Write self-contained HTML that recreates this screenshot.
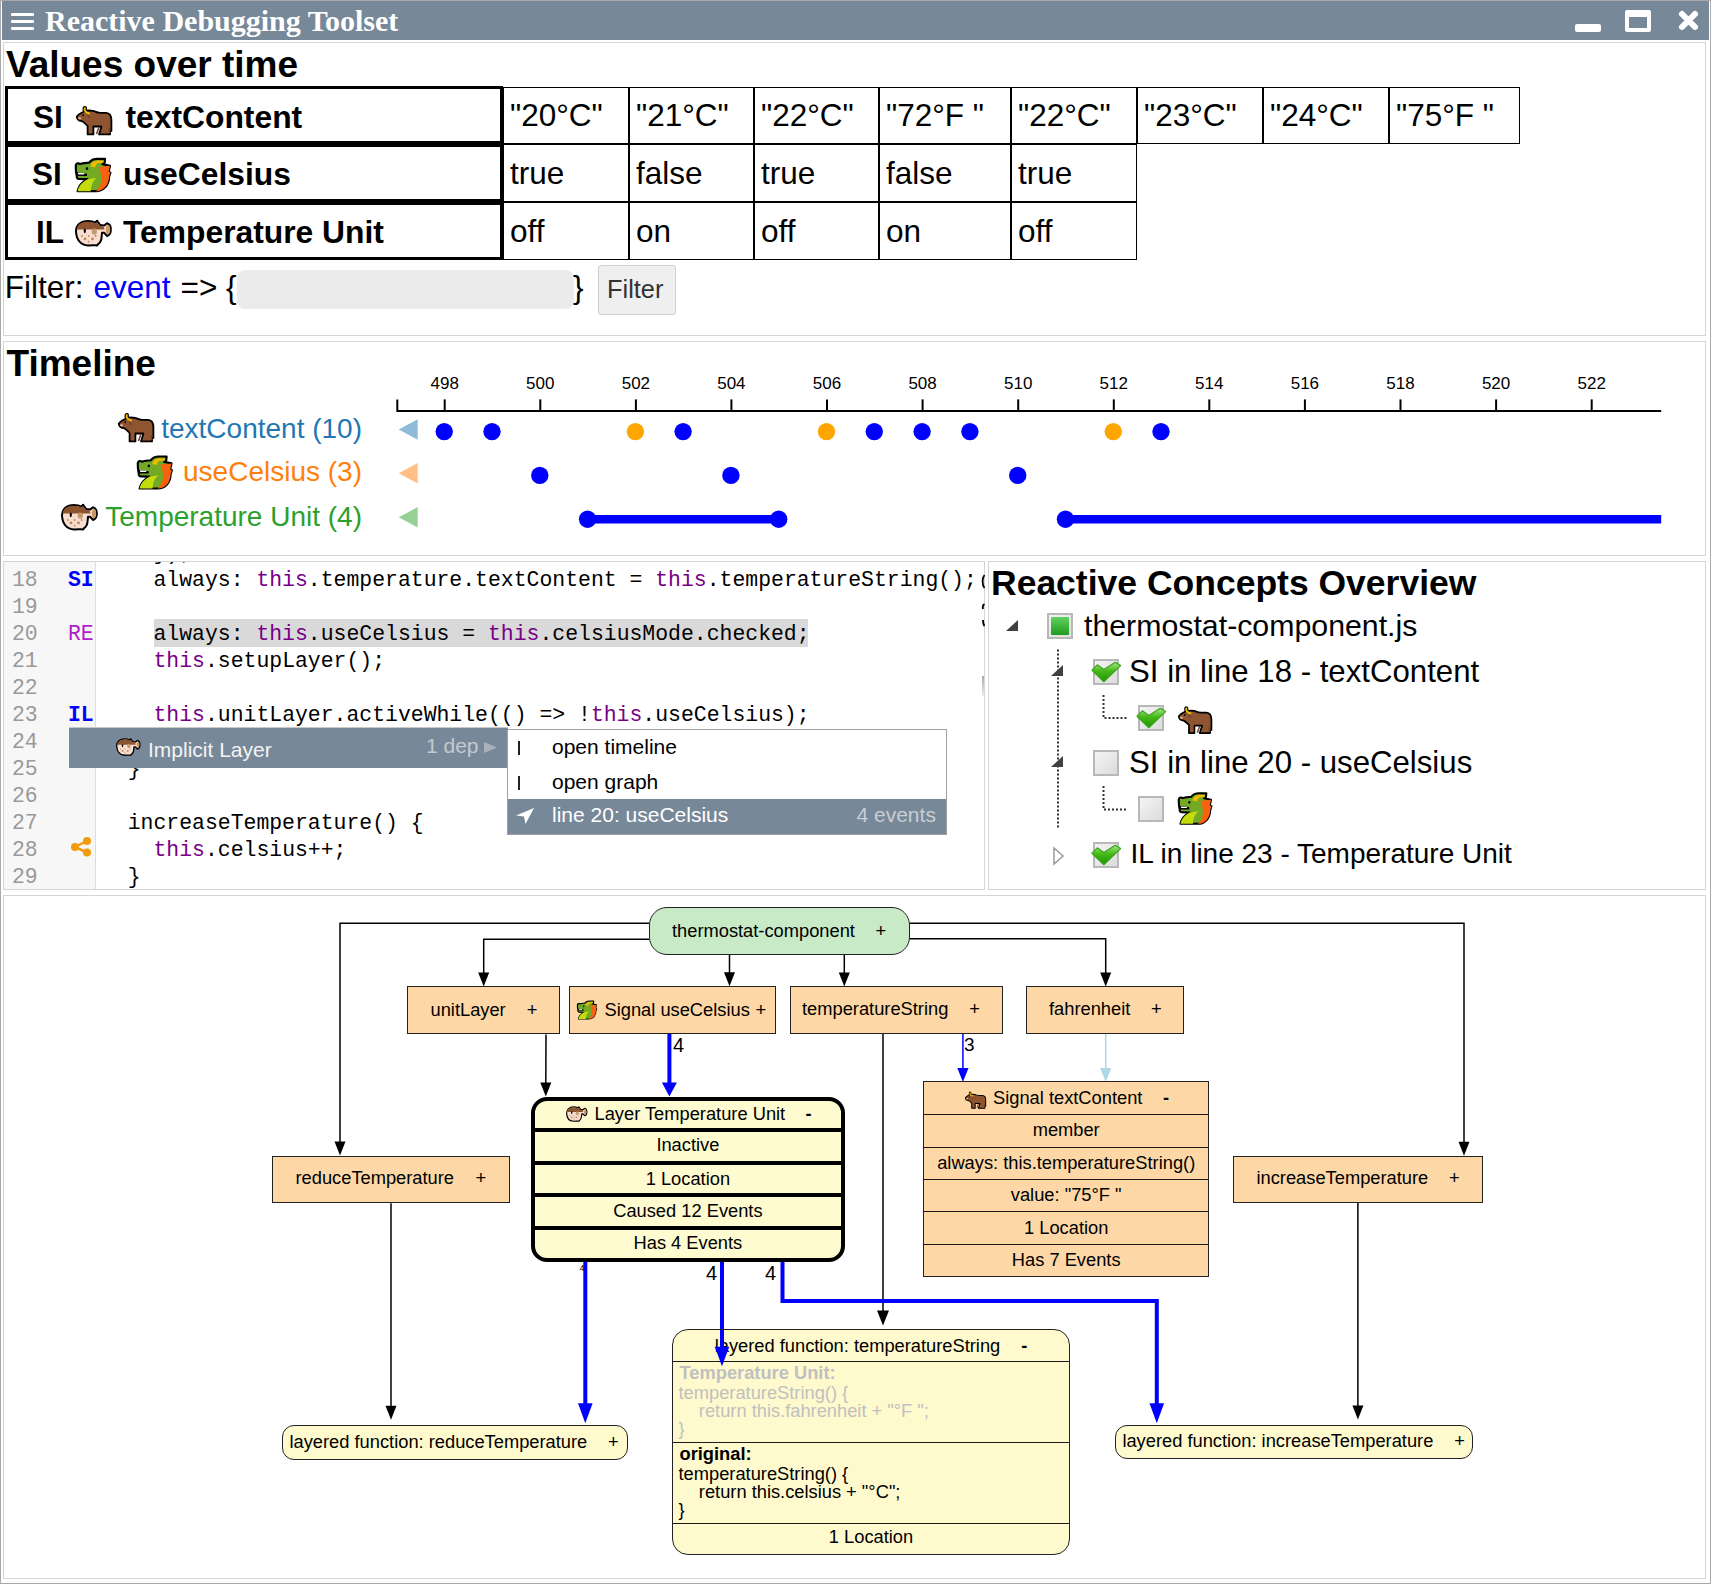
<!DOCTYPE html><html><head><meta charset="utf-8"><title>Reactive Debugging Toolset</title><style>html,body{margin:0;padding:0;background:#fff;overflow:hidden}body{width:1711px;height:1584px;position:relative}</style></head><body>
<div style="position:absolute;left:0px;top:0px;width:1711px;height:1584px;box-sizing:border-box;border:1px solid #a9a9a9;border-right:1px solid #a9a9a9"></div>
<div style="position:absolute;left:2px;top:1px;width:1707px;height:38.5px;box-sizing:border-box;background:#778899"></div>
<div style="position:absolute;left:11px;top:13px;width:23px;height:3px;box-sizing:border-box;background:#fff;border-radius:1px"></div>
<div style="position:absolute;left:11px;top:20px;width:23px;height:3px;box-sizing:border-box;background:#fff;border-radius:1px"></div>
<div style="position:absolute;left:11px;top:27px;width:23px;height:3px;box-sizing:border-box;background:#fff;border-radius:1px"></div>
<div style="position:absolute;left:45px;top:6px;font-family:'Liberation Serif', serif;font-size:30px;line-height:30px;color:#fff;font-weight:bold;white-space:pre;">Reactive Debugging Toolset</div>
<div style="position:absolute;left:1575px;top:24px;width:26px;height:8px;box-sizing:border-box;background:#fff;border-radius:2px"></div>
<div style="position:absolute;left:1625px;top:10px;width:26px;height:22px;box-sizing:border-box;border:4px solid #fff;border-top-width:7px;border-radius:2px"></div>
<svg style="position:absolute;left:1678px;top:10px;overflow:visible" width="21" height="21" viewBox="0 0 21 21"><path d="M4 4 L17 17 M17 4 L4 17" stroke="#fff" stroke-width="6" stroke-linecap="round"/></svg>
<div style="position:absolute;left:3px;top:42px;width:1703px;height:294px;box-sizing:border-box;border:1px solid #d5d5d5"></div>
<div style="position:absolute;left:3px;top:341px;width:1703px;height:215px;box-sizing:border-box;border:1px solid #d5d5d5"></div>
<div style="position:absolute;left:3px;top:561px;width:982px;height:329px;box-sizing:border-box;border:1px solid #d5d5d5"></div>
<div style="position:absolute;left:988px;top:561px;width:718px;height:329px;box-sizing:border-box;border:1px solid #d5d5d5"></div>
<div style="position:absolute;left:3px;top:895px;width:1703px;height:684px;box-sizing:border-box;border:1px solid #d5d5d5"></div>
<div style="position:absolute;left:6px;top:46px;font-family:'Liberation Sans', sans-serif;font-size:37px;line-height:37px;color:#000;font-weight:bold;white-space:pre;">Values over time</div>
<div style="position:absolute;left:5px;top:86px;width:498px;height:58px;box-sizing:border-box;border:3px solid #000"></div>
<div style="position:absolute;left:5px;top:144px;width:498px;height:58px;box-sizing:border-box;border:3px solid #000"></div>
<div style="position:absolute;left:5px;top:202px;width:498px;height:58px;box-sizing:border-box;border:3px solid #000"></div>
<div style="position:absolute;left:503px;top:87px;width:126px;height:57px;box-sizing:border-box;border:1px solid #000"></div>
<div style="position:absolute;left:510px;top:100px;font-family:'Liberation Sans', sans-serif;font-size:31.5px;line-height:31.5px;color:#000;font-weight:normal;white-space:pre;">"20°C"</div>
<div style="position:absolute;left:629px;top:87px;width:125px;height:57px;box-sizing:border-box;border:1px solid #000"></div>
<div style="position:absolute;left:636px;top:100px;font-family:'Liberation Sans', sans-serif;font-size:31.5px;line-height:31.5px;color:#000;font-weight:normal;white-space:pre;">"21°C"</div>
<div style="position:absolute;left:754px;top:87px;width:125px;height:57px;box-sizing:border-box;border:1px solid #000"></div>
<div style="position:absolute;left:761px;top:100px;font-family:'Liberation Sans', sans-serif;font-size:31.5px;line-height:31.5px;color:#000;font-weight:normal;white-space:pre;">"22°C"</div>
<div style="position:absolute;left:879px;top:87px;width:132px;height:57px;box-sizing:border-box;border:1px solid #000"></div>
<div style="position:absolute;left:886px;top:100px;font-family:'Liberation Sans', sans-serif;font-size:31.5px;line-height:31.5px;color:#000;font-weight:normal;white-space:pre;">"72°F "</div>
<div style="position:absolute;left:1011px;top:87px;width:126px;height:57px;box-sizing:border-box;border:1px solid #000"></div>
<div style="position:absolute;left:1018px;top:100px;font-family:'Liberation Sans', sans-serif;font-size:31.5px;line-height:31.5px;color:#000;font-weight:normal;white-space:pre;">"22°C"</div>
<div style="position:absolute;left:1137px;top:87px;width:126px;height:57px;box-sizing:border-box;border:1px solid #000"></div>
<div style="position:absolute;left:1144px;top:100px;font-family:'Liberation Sans', sans-serif;font-size:31.5px;line-height:31.5px;color:#000;font-weight:normal;white-space:pre;">"23°C"</div>
<div style="position:absolute;left:1263px;top:87px;width:126px;height:57px;box-sizing:border-box;border:1px solid #000"></div>
<div style="position:absolute;left:1270px;top:100px;font-family:'Liberation Sans', sans-serif;font-size:31.5px;line-height:31.5px;color:#000;font-weight:normal;white-space:pre;">"24°C"</div>
<div style="position:absolute;left:1389px;top:87px;width:131px;height:57px;box-sizing:border-box;border:1px solid #000"></div>
<div style="position:absolute;left:1396px;top:100px;font-family:'Liberation Sans', sans-serif;font-size:31.5px;line-height:31.5px;color:#000;font-weight:normal;white-space:pre;">"75°F "</div>
<div style="position:absolute;left:503px;top:144px;width:126px;height:58px;box-sizing:border-box;border:1px solid #000"></div>
<div style="position:absolute;left:510px;top:158px;font-family:'Liberation Sans', sans-serif;font-size:31.5px;line-height:31.5px;color:#000;font-weight:normal;white-space:pre;">true</div>
<div style="position:absolute;left:629px;top:144px;width:125px;height:58px;box-sizing:border-box;border:1px solid #000"></div>
<div style="position:absolute;left:636px;top:158px;font-family:'Liberation Sans', sans-serif;font-size:31.5px;line-height:31.5px;color:#000;font-weight:normal;white-space:pre;">false</div>
<div style="position:absolute;left:754px;top:144px;width:125px;height:58px;box-sizing:border-box;border:1px solid #000"></div>
<div style="position:absolute;left:761px;top:158px;font-family:'Liberation Sans', sans-serif;font-size:31.5px;line-height:31.5px;color:#000;font-weight:normal;white-space:pre;">true</div>
<div style="position:absolute;left:879px;top:144px;width:132px;height:58px;box-sizing:border-box;border:1px solid #000"></div>
<div style="position:absolute;left:886px;top:158px;font-family:'Liberation Sans', sans-serif;font-size:31.5px;line-height:31.5px;color:#000;font-weight:normal;white-space:pre;">false</div>
<div style="position:absolute;left:1011px;top:144px;width:126px;height:58px;box-sizing:border-box;border:1px solid #000"></div>
<div style="position:absolute;left:1018px;top:158px;font-family:'Liberation Sans', sans-serif;font-size:31.5px;line-height:31.5px;color:#000;font-weight:normal;white-space:pre;">true</div>
<div style="position:absolute;left:503px;top:202px;width:126px;height:58px;box-sizing:border-box;border:1px solid #000"></div>
<div style="position:absolute;left:510px;top:215.5px;font-family:'Liberation Sans', sans-serif;font-size:31.5px;line-height:31.5px;color:#000;font-weight:normal;white-space:pre;">off</div>
<div style="position:absolute;left:629px;top:202px;width:125px;height:58px;box-sizing:border-box;border:1px solid #000"></div>
<div style="position:absolute;left:636px;top:215.5px;font-family:'Liberation Sans', sans-serif;font-size:31.5px;line-height:31.5px;color:#000;font-weight:normal;white-space:pre;">on</div>
<div style="position:absolute;left:754px;top:202px;width:125px;height:58px;box-sizing:border-box;border:1px solid #000"></div>
<div style="position:absolute;left:761px;top:215.5px;font-family:'Liberation Sans', sans-serif;font-size:31.5px;line-height:31.5px;color:#000;font-weight:normal;white-space:pre;">off</div>
<div style="position:absolute;left:879px;top:202px;width:132px;height:58px;box-sizing:border-box;border:1px solid #000"></div>
<div style="position:absolute;left:886px;top:215.5px;font-family:'Liberation Sans', sans-serif;font-size:31.5px;line-height:31.5px;color:#000;font-weight:normal;white-space:pre;">on</div>
<div style="position:absolute;left:1011px;top:202px;width:126px;height:58px;box-sizing:border-box;border:1px solid #000"></div>
<div style="position:absolute;left:1018px;top:215.5px;font-family:'Liberation Sans', sans-serif;font-size:31.5px;line-height:31.5px;color:#000;font-weight:normal;white-space:pre;">off</div>
<div style="position:absolute;left:33px;top:102px;font-family:'Liberation Sans', sans-serif;font-size:31.5px;line-height:31.5px;color:#000;font-weight:bold;white-space:pre;">SI</div>
<svg style="position:absolute;left:76px;top:105px;overflow:visible" width="36" height="30" viewBox="0 0 36 30"><path d="M8.8 3.2 C8 5.5 9.8 7.8 13.2 8.4" stroke="#000" stroke-width="4.4" stroke-linecap="round" fill="none"/><path d="M8 6.5 C10 5.5 13 5.2 17 5.9 C19 6.3 21 7.8 24 7.8 L30 7.8 C34 8.2 35.4 11 35.4 15 L35.4 26 L34 26.5 L34 29.4 L23 29.4 L25.5 21.5 L17.4 21.5 L17.4 29.4 L11.6 29.4 L11.6 20.8 C9.6 19 8 17 6 16.2 C3 16 0.8 14 0.8 11.8 C1.2 10 4 8.5 8 6.5 Z" fill="#8e5530" stroke="#000" stroke-width="1.8" stroke-linejoin="round"/><path d="M8.8 3.2 C8 5.5 9.8 7.8 13.2 8.4" stroke="#f5bd00" stroke-width="2" stroke-linecap="round" fill="none"/><path d="M23 22 L20.5 29 M33 23 L33.5 28" stroke="#6e4332" stroke-width="1.6"/><ellipse cx="7.2" cy="10.2" rx="0.8" ry="1.1" fill="#000"/><ellipse cx="3.6" cy="13.2" rx="1.6" ry="1" fill="#e9b99c"/><ellipse cx="12.5" cy="11.5" rx="1" ry="2" fill="#6e4332" transform="rotate(-30 12.5 11.5)"/></svg>
<div style="position:absolute;left:125.5px;top:102px;font-family:'Liberation Sans', sans-serif;font-size:31.8px;line-height:31.8px;color:#000;font-weight:bold;white-space:pre;">textContent</div>
<div style="position:absolute;left:32px;top:159px;font-family:'Liberation Sans', sans-serif;font-size:31.5px;line-height:31.5px;color:#000;font-weight:bold;white-space:pre;">SI</div>
<svg style="position:absolute;left:74.8px;top:158.4px;overflow:visible" width="36" height="34" viewBox="0 0 36 34"><path d="M0.8 7.5 C1.2 5 3.5 5 5 6 C8 4.8 11 5 14 4.6 C16 2 18.5 0.8 22 0.8 L30 0.8 L29.6 5 L27.5 6.2 L35 7.8 L33.6 13.6 L35.4 14.6 L34 19 C34 27 28.5 33.2 21 33.2 L2.6 33.2 C4 27 8 23.5 12.5 21.2 L4 21 C2.4 21 1.6 19.8 1.8 17.8 L1.2 15 C0.8 12 0.8 9.5 0.8 7.5 Z" fill="#72aa26" stroke="#000" stroke-width="2.2" stroke-linejoin="round"/><path d="M23.5 9 L35 7.8 L33.6 13.6 L35.4 14.6 L34 19 C34 27 28.5 33.2 21 33.2 C26.5 28 28.5 20 23.5 9 Z" fill="#f6620f"/><path d="M2.6 33.2 C4 27 8 23.5 12.5 21.2 L22 19.8 C18 22.5 16.5 26 15.8 33.2 Z" fill="#c2dc0c"/><path d="M15.5 8.5 C16.5 4.5 19 2.8 23 2.8 L28.6 2.8 L28.2 5 L23.5 5 C21.5 5.5 20.5 7.2 20 9.5 Z" fill="#f5b900"/><path d="M1.5 14.2 L12 15.8 L12 18 L2.2 18 Z" fill="#000"/><path d="M3 14.8 L9.5 15.3 L9.3 16.6 L3.3 16.6 Z" fill="#fff"/><ellipse cx="12" cy="10.5" rx="1.2" ry="1.5" fill="#000"/></svg>
<div style="position:absolute;left:123px;top:159px;font-family:'Liberation Sans', sans-serif;font-size:31.8px;line-height:31.8px;color:#000;font-weight:bold;white-space:pre;">useCelsius</div>
<div style="position:absolute;left:36px;top:217px;font-family:'Liberation Sans', sans-serif;font-size:31.5px;line-height:31.5px;color:#000;font-weight:bold;white-space:pre;">IL</div>
<svg style="position:absolute;left:75.3px;top:220.4px;overflow:visible" width="36" height="26" viewBox="0 0 36 26"><path d="M1 11.5 C0.8 5 6 0.9 13 0.9 C17 0.9 19 1.8 20.5 2.6 L22 0.7 L25.2 5 L29 5.6 L32 3.2 C34.8 4 35.9 7 35.8 9.6 C35.9 12.2 35 15 32.2 16 L29 12.8 L27 12.8 L26.6 17 C26.4 21 25 23 22.8 24.4 L22.2 25.4 C20.2 25 19 25.4 13 25.4 C6 25.4 1.4 20 1 11.5 Z" fill="#f8ddd0" stroke="#000" stroke-width="2" stroke-linejoin="round"/><path d="M1.6 9.6 C2.4 4 7 1.8 13 1.8 C17 1.8 19.3 2.6 20.6 3.4 L21.8 2.2 L24.6 5.8 L28.8 6.4 L29.5 9.6 Z" fill="#8c542e"/><ellipse cx="33" cy="9.6" rx="2.2" ry="4.6" fill="#c99863"/><ellipse cx="19.3" cy="11.6" rx="2.6" ry="3.2" fill="#c29b6d"/><ellipse cx="9.8" cy="10.8" rx="1.1" ry="2.4" fill="#000"/><g fill="#b98a55"><circle cx="7" cy="16" r="0.9"/><circle cx="13.6" cy="16" r="0.9"/><circle cx="20.6" cy="16" r="0.9"/><circle cx="10" cy="18.9" r="1.4"/><circle cx="17.5" cy="18.9" r="1.4"/><circle cx="13.6" cy="21.7" r="0.9"/></g></svg>
<div style="position:absolute;left:123px;top:217px;font-family:'Liberation Sans', sans-serif;font-size:31.8px;line-height:31.8px;color:#000;font-weight:bold;white-space:pre;">Temperature Unit</div>
<div style="position:absolute;left:4.8px;top:271.5px;font-family:'Liberation Sans', sans-serif;font-size:31.5px;line-height:31.5px;color:#000;font-weight:normal;white-space:pre;">Filter: </div>
<div style="position:absolute;left:93.5px;top:271.5px;font-family:'Liberation Sans', sans-serif;font-size:31.5px;line-height:31.5px;color:#0000ff;font-weight:normal;white-space:pre;">event</div>
<div style="position:absolute;left:180.5px;top:271.5px;font-family:'Liberation Sans', sans-serif;font-size:31.5px;line-height:31.5px;color:#000;font-weight:normal;white-space:pre;">=&gt; {</div>
<div style="position:absolute;left:237px;top:270px;width:337px;height:39px;box-sizing:border-box;background:#ebebeb;border-radius:8px"></div>
<div style="position:absolute;left:573px;top:271.5px;font-family:'Liberation Sans', sans-serif;font-size:31.5px;line-height:31.5px;color:#000;font-weight:normal;white-space:pre;">}</div>
<div style="position:absolute;left:598px;top:265px;width:78px;height:50px;box-sizing:border-box;background:#efefef;border:1px solid #d0d0d0;border-radius:3px"></div>
<div style="position:absolute;left:607px;top:277px;font-family:'Liberation Sans', sans-serif;font-size:25.4px;line-height:25.4px;color:#333;font-weight:normal;white-space:pre;">Filter</div>
<div style="position:absolute;left:6.5px;top:345px;font-family:'Liberation Sans', sans-serif;font-size:37px;line-height:37px;color:#000;font-weight:bold;white-space:pre;">Timeline</div>
<svg style="position:absolute;left:0;top:0" width="1711" height="1584"><path d="M397.3 399.4 V411 H1661.2" stroke="#000" stroke-width="2" fill="none"/><path d="M444.7 399.4 V411" stroke="#000" stroke-width="2"/><path d="M540.3 399.4 V411" stroke="#000" stroke-width="2"/><path d="M635.9 399.4 V411" stroke="#000" stroke-width="2"/><path d="M731.4 399.4 V411" stroke="#000" stroke-width="2"/><path d="M827.0 399.4 V411" stroke="#000" stroke-width="2"/><path d="M922.6 399.4 V411" stroke="#000" stroke-width="2"/><path d="M1018.2 399.4 V411" stroke="#000" stroke-width="2"/><path d="M1113.8 399.4 V411" stroke="#000" stroke-width="2"/><path d="M1209.3 399.4 V411" stroke="#000" stroke-width="2"/><path d="M1304.9 399.4 V411" stroke="#000" stroke-width="2"/><path d="M1400.5 399.4 V411" stroke="#000" stroke-width="2"/><path d="M1496.1 399.4 V411" stroke="#000" stroke-width="2"/><path d="M1591.7 399.4 V411" stroke="#000" stroke-width="2"/><path d="M398.7 429.5 L417.7 419.3 V439.7 Z" fill="#8fbbd9"/><path d="M398.7 473.2 L417.7 463 V483.4 Z" fill="#ffbf87"/><path d="M398.7 517.3 L417.7 507.1 V527.5 Z" fill="#96d096"/><circle cx="444.2" cy="431.6" r="8.7" fill="#00f"/><circle cx="492.0" cy="431.6" r="8.7" fill="#00f"/><circle cx="635.4" cy="431.6" r="8.7" fill="#ffa500"/><circle cx="683.1" cy="431.6" r="8.7" fill="#00f"/><circle cx="826.5" cy="431.6" r="8.7" fill="#ffa500"/><circle cx="874.3" cy="431.6" r="8.7" fill="#00f"/><circle cx="922.1" cy="431.6" r="8.7" fill="#00f"/><circle cx="969.9" cy="431.6" r="8.7" fill="#00f"/><circle cx="1113.3" cy="431.6" r="8.7" fill="#ffa500"/><circle cx="1161.0" cy="431.6" r="8.7" fill="#00f"/><circle cx="539.8" cy="475.4" r="8.7" fill="#00f"/><circle cx="730.9" cy="475.4" r="8.7" fill="#00f"/><circle cx="1017.7" cy="475.4" r="8.7" fill="#00f"/><path d="M587.6 519.2 H778.7 M1065.5 519.2 H1661.2" stroke="#00f" stroke-width="8.6"/><circle cx="587.6" cy="519.2" r="8.7" fill="#00f"/><circle cx="778.7" cy="519.2" r="8.7" fill="#00f"/><circle cx="1065.5" cy="519.2" r="8.7" fill="#00f"/></svg>
<div style="position:absolute;left:404.2px;top:374.6px;width:81px;text-align:center;font-family:'Liberation Sans',sans-serif;font-size:17px;line-height:17px">498</div>
<div style="position:absolute;left:499.8px;top:374.6px;width:81px;text-align:center;font-family:'Liberation Sans',sans-serif;font-size:17px;line-height:17px">500</div>
<div style="position:absolute;left:595.4px;top:374.6px;width:81px;text-align:center;font-family:'Liberation Sans',sans-serif;font-size:17px;line-height:17px">502</div>
<div style="position:absolute;left:690.9px;top:374.6px;width:81px;text-align:center;font-family:'Liberation Sans',sans-serif;font-size:17px;line-height:17px">504</div>
<div style="position:absolute;left:786.5px;top:374.6px;width:81px;text-align:center;font-family:'Liberation Sans',sans-serif;font-size:17px;line-height:17px">506</div>
<div style="position:absolute;left:882.1px;top:374.6px;width:81px;text-align:center;font-family:'Liberation Sans',sans-serif;font-size:17px;line-height:17px">508</div>
<div style="position:absolute;left:977.7px;top:374.6px;width:81px;text-align:center;font-family:'Liberation Sans',sans-serif;font-size:17px;line-height:17px">510</div>
<div style="position:absolute;left:1073.3px;top:374.6px;width:81px;text-align:center;font-family:'Liberation Sans',sans-serif;font-size:17px;line-height:17px">512</div>
<div style="position:absolute;left:1168.8px;top:374.6px;width:81px;text-align:center;font-family:'Liberation Sans',sans-serif;font-size:17px;line-height:17px">514</div>
<div style="position:absolute;left:1264.4px;top:374.6px;width:81px;text-align:center;font-family:'Liberation Sans',sans-serif;font-size:17px;line-height:17px">516</div>
<div style="position:absolute;left:1360.0px;top:374.6px;width:81px;text-align:center;font-family:'Liberation Sans',sans-serif;font-size:17px;line-height:17px">518</div>
<div style="position:absolute;left:1455.6px;top:374.6px;width:81px;text-align:center;font-family:'Liberation Sans',sans-serif;font-size:17px;line-height:17px">520</div>
<div style="position:absolute;left:1551.2px;top:374.6px;width:81px;text-align:center;font-family:'Liberation Sans',sans-serif;font-size:17px;line-height:17px">522</div>
<div style="position:absolute;left:-238px;top:415px;width:600px;text-align:right;font-family:'Liberation Sans',sans-serif;font-size:28px;line-height:28px;color:#1f77b4;font-weight:normal;white-space:pre">textContent (10)</div>
<div style="position:absolute;left:-238px;top:458.3px;width:600px;text-align:right;font-family:'Liberation Sans',sans-serif;font-size:28px;line-height:28px;color:#ff7f0e;font-weight:normal;white-space:pre">useCelsius (3)</div>
<div style="position:absolute;left:-238px;top:502.6px;width:600px;text-align:right;font-family:'Liberation Sans',sans-serif;font-size:28px;line-height:28px;color:#2ca02c;font-weight:normal;white-space:pre">Temperature Unit (4)</div>
<svg style="position:absolute;left:118.3px;top:412.3px;overflow:visible" width="36" height="30" viewBox="0 0 36 30"><path d="M8.8 3.2 C8 5.5 9.8 7.8 13.2 8.4" stroke="#000" stroke-width="4.4" stroke-linecap="round" fill="none"/><path d="M8 6.5 C10 5.5 13 5.2 17 5.9 C19 6.3 21 7.8 24 7.8 L30 7.8 C34 8.2 35.4 11 35.4 15 L35.4 26 L34 26.5 L34 29.4 L23 29.4 L25.5 21.5 L17.4 21.5 L17.4 29.4 L11.6 29.4 L11.6 20.8 C9.6 19 8 17 6 16.2 C3 16 0.8 14 0.8 11.8 C1.2 10 4 8.5 8 6.5 Z" fill="#8e5530" stroke="#000" stroke-width="1.8" stroke-linejoin="round"/><path d="M8.8 3.2 C8 5.5 9.8 7.8 13.2 8.4" stroke="#f5bd00" stroke-width="2" stroke-linecap="round" fill="none"/><path d="M23 22 L20.5 29 M33 23 L33.5 28" stroke="#6e4332" stroke-width="1.6"/><ellipse cx="7.2" cy="10.2" rx="0.8" ry="1.1" fill="#000"/><ellipse cx="3.6" cy="13.2" rx="1.6" ry="1" fill="#e9b99c"/><ellipse cx="12.5" cy="11.5" rx="1" ry="2" fill="#6e4332" transform="rotate(-30 12.5 11.5)"/></svg>
<svg style="position:absolute;left:136.7px;top:455px;overflow:visible" width="35.5" height="35" viewBox="0 0 36 34"><path d="M0.8 7.5 C1.2 5 3.5 5 5 6 C8 4.8 11 5 14 4.6 C16 2 18.5 0.8 22 0.8 L30 0.8 L29.6 5 L27.5 6.2 L35 7.8 L33.6 13.6 L35.4 14.6 L34 19 C34 27 28.5 33.2 21 33.2 L2.6 33.2 C4 27 8 23.5 12.5 21.2 L4 21 C2.4 21 1.6 19.8 1.8 17.8 L1.2 15 C0.8 12 0.8 9.5 0.8 7.5 Z" fill="#72aa26" stroke="#000" stroke-width="2.2" stroke-linejoin="round"/><path d="M23.5 9 L35 7.8 L33.6 13.6 L35.4 14.6 L34 19 C34 27 28.5 33.2 21 33.2 C26.5 28 28.5 20 23.5 9 Z" fill="#f6620f"/><path d="M2.6 33.2 C4 27 8 23.5 12.5 21.2 L22 19.8 C18 22.5 16.5 26 15.8 33.2 Z" fill="#c2dc0c"/><path d="M15.5 8.5 C16.5 4.5 19 2.8 23 2.8 L28.6 2.8 L28.2 5 L23.5 5 C21.5 5.5 20.5 7.2 20 9.5 Z" fill="#f5b900"/><path d="M1.5 14.2 L12 15.8 L12 18 L2.2 18 Z" fill="#000"/><path d="M3 14.8 L9.5 15.3 L9.3 16.6 L3.3 16.6 Z" fill="#fff"/><ellipse cx="12" cy="10.5" rx="1.2" ry="1.5" fill="#000"/></svg>
<svg style="position:absolute;left:60.8px;top:504px;overflow:visible" width="36" height="26" viewBox="0 0 36 26"><path d="M1 11.5 C0.8 5 6 0.9 13 0.9 C17 0.9 19 1.8 20.5 2.6 L22 0.7 L25.2 5 L29 5.6 L32 3.2 C34.8 4 35.9 7 35.8 9.6 C35.9 12.2 35 15 32.2 16 L29 12.8 L27 12.8 L26.6 17 C26.4 21 25 23 22.8 24.4 L22.2 25.4 C20.2 25 19 25.4 13 25.4 C6 25.4 1.4 20 1 11.5 Z" fill="#f8ddd0" stroke="#000" stroke-width="2" stroke-linejoin="round"/><path d="M1.6 9.6 C2.4 4 7 1.8 13 1.8 C17 1.8 19.3 2.6 20.6 3.4 L21.8 2.2 L24.6 5.8 L28.8 6.4 L29.5 9.6 Z" fill="#8c542e"/><ellipse cx="33" cy="9.6" rx="2.2" ry="4.6" fill="#c99863"/><ellipse cx="19.3" cy="11.6" rx="2.6" ry="3.2" fill="#c29b6d"/><ellipse cx="9.8" cy="10.8" rx="1.1" ry="2.4" fill="#000"/><g fill="#b98a55"><circle cx="7" cy="16" r="0.9"/><circle cx="13.6" cy="16" r="0.9"/><circle cx="20.6" cy="16" r="0.9"/><circle cx="10" cy="18.9" r="1.4"/><circle cx="17.5" cy="18.9" r="1.4"/><circle cx="13.6" cy="21.7" r="0.9"/></g></svg>
<div style="position:absolute;left:4px;top:562px;width:92px;height:327px;box-sizing:border-box;background:#f7f7f7;border-right:1px solid #dddddd"></div>
<div style="position:absolute;left:96px;top:562px;width:888px;height:327px;overflow:hidden">
<div style="position:absolute;left:58px;top:57px;width:654px;height:28px;box-sizing:border-box;background:#d9d9d9"></div>
<div style="position:absolute;left:6.0px;top:-18.8px;font-family:'Liberation Mono',monospace;font-size:21.45px;line-height:21.45px;color:#000;white-space:pre">    });</div>
<div style="position:absolute;left:6.0px;top:8.2px;font-family:'Liberation Mono',monospace;font-size:21.45px;line-height:21.45px;color:#000;white-space:pre">    always: <span style="color:#708">this</span>.temperature.textContent = <span style="color:#708">this</span>.temperatureString();</div>
<div style="position:absolute;left:6.0px;top:62.1px;font-family:'Liberation Mono',monospace;font-size:21.45px;line-height:21.45px;color:#000;white-space:pre">    always: <span style="color:#708">this</span>.useCelsius = <span style="color:#708">this</span>.celsiusMode.checked;</div>
<div style="position:absolute;left:6.0px;top:89.1px;font-family:'Liberation Mono',monospace;font-size:21.45px;line-height:21.45px;color:#000;white-space:pre">    <span style="color:#708">this</span>.setupLayer();</div>
<div style="position:absolute;left:6.0px;top:143.0px;font-family:'Liberation Mono',monospace;font-size:21.45px;line-height:21.45px;color:#000;white-space:pre">    <span style="color:#708">this</span>.unitLayer.activeWhile(() =&gt; !<span style="color:#708">this</span>.useCelsius);</div>
<div style="position:absolute;left:6.0px;top:196.9px;font-family:'Liberation Mono',monospace;font-size:21.45px;line-height:21.45px;color:#000;white-space:pre">  }</div>
<div style="position:absolute;left:6.0px;top:250.8px;font-family:'Liberation Mono',monospace;font-size:21.45px;line-height:21.45px;color:#000;white-space:pre">  increaseTemperature() {</div>
<div style="position:absolute;left:6.0px;top:277.8px;font-family:'Liberation Mono',monospace;font-size:21.45px;line-height:21.45px;color:#000;white-space:pre">    <span style="color:#708">this</span>.celsius++;</div>
<div style="position:absolute;left:6.0px;top:304.8px;font-family:'Liberation Mono',monospace;font-size:21.45px;line-height:21.45px;color:#000;white-space:pre">  }</div>
</div>
<div style="position:absolute;left:12px;top:570.2px;font-family:'Liberation Mono',monospace;font-size:21.45px;line-height:21.45px;color:#999">18</div>
<div style="position:absolute;left:12px;top:597.2px;font-family:'Liberation Mono',monospace;font-size:21.45px;line-height:21.45px;color:#999">19</div>
<div style="position:absolute;left:12px;top:624.1px;font-family:'Liberation Mono',monospace;font-size:21.45px;line-height:21.45px;color:#999">20</div>
<div style="position:absolute;left:12px;top:651.1px;font-family:'Liberation Mono',monospace;font-size:21.45px;line-height:21.45px;color:#999">21</div>
<div style="position:absolute;left:12px;top:678.0px;font-family:'Liberation Mono',monospace;font-size:21.45px;line-height:21.45px;color:#999">22</div>
<div style="position:absolute;left:12px;top:705.0px;font-family:'Liberation Mono',monospace;font-size:21.45px;line-height:21.45px;color:#999">23</div>
<div style="position:absolute;left:12px;top:732.0px;font-family:'Liberation Mono',monospace;font-size:21.45px;line-height:21.45px;color:#999">24</div>
<div style="position:absolute;left:12px;top:758.9px;font-family:'Liberation Mono',monospace;font-size:21.45px;line-height:21.45px;color:#999">25</div>
<div style="position:absolute;left:12px;top:785.9px;font-family:'Liberation Mono',monospace;font-size:21.45px;line-height:21.45px;color:#999">26</div>
<div style="position:absolute;left:12px;top:812.8px;font-family:'Liberation Mono',monospace;font-size:21.45px;line-height:21.45px;color:#999">27</div>
<div style="position:absolute;left:12px;top:839.8px;font-family:'Liberation Mono',monospace;font-size:21.45px;line-height:21.45px;color:#999">28</div>
<div style="position:absolute;left:12px;top:866.8px;font-family:'Liberation Mono',monospace;font-size:21.45px;line-height:21.45px;color:#999">29</div>
<div style="position:absolute;left:68px;top:570.2px;font-family:'Liberation Mono', monospace;font-size:21.45px;line-height:21.45px;color:#0000ff;font-weight:bold;white-space:pre;">SI</div>
<div style="position:absolute;left:68px;top:624.12px;font-family:'Liberation Mono', monospace;font-size:21.45px;line-height:21.45px;color:#b31bcc;font-weight:normal;white-space:pre;">RE</div>
<div style="position:absolute;left:68px;top:705.0px;font-family:'Liberation Mono', monospace;font-size:21.45px;line-height:21.45px;color:#0000ff;font-weight:bold;white-space:pre;">IL</div>
<svg style="position:absolute;left:981px;top:574px;overflow:visible" width="4" height="54" viewBox="0 0 4 54"><path d="M3.5 1 C1 4 1 11 3.5 14" stroke="#000" stroke-width="1.8" fill="none"/><path d="M3.5 30 C1.5 31 1.5 33 2 35 M2 46 C2 49 2.5 51 3.5 52" stroke="#000" stroke-width="1.8" fill="none"/></svg>
<div style="position:absolute;left:982px;top:676px;width:2px;height:20px;box-sizing:border-box;background:linear-gradient(#aaa,#eee)"></div>
<svg style="position:absolute;left:70px;top:836px;overflow:visible" width="23" height="22" viewBox="0 0 23 22"><circle cx="17" cy="5" r="4" fill="#f29b0e"/><circle cx="5" cy="11" r="4" fill="#f29b0e"/><circle cx="17" cy="16.5" r="4" fill="#f29b0e"/><path d="M17 5 L5 11 L17 16.5" stroke="#f29b0e" stroke-width="2.5" fill="none"/></svg>
<div style="position:absolute;left:69px;top:727px;width:439px;height:41px;box-sizing:border-box;background:#778899;border-top:1px solid #c8c8c8"></div>
<svg style="position:absolute;left:116px;top:737.5px;overflow:visible" width="24" height="18" viewBox="0 0 36 26"><path d="M1 11.5 C0.8 5 6 0.9 13 0.9 C17 0.9 19 1.8 20.5 2.6 L22 0.7 L25.2 5 L29 5.6 L32 3.2 C34.8 4 35.9 7 35.8 9.6 C35.9 12.2 35 15 32.2 16 L29 12.8 L27 12.8 L26.6 17 C26.4 21 25 23 22.8 24.4 L22.2 25.4 C20.2 25 19 25.4 13 25.4 C6 25.4 1.4 20 1 11.5 Z" fill="#f8ddd0" stroke="#000" stroke-width="2" stroke-linejoin="round"/><path d="M1.6 9.6 C2.4 4 7 1.8 13 1.8 C17 1.8 19.3 2.6 20.6 3.4 L21.8 2.2 L24.6 5.8 L28.8 6.4 L29.5 9.6 Z" fill="#8c542e"/><ellipse cx="33" cy="9.6" rx="2.2" ry="4.6" fill="#c99863"/><ellipse cx="19.3" cy="11.6" rx="2.6" ry="3.2" fill="#c29b6d"/><ellipse cx="9.8" cy="10.8" rx="1.1" ry="2.4" fill="#000"/><g fill="#b98a55"><circle cx="7" cy="16" r="0.9"/><circle cx="13.6" cy="16" r="0.9"/><circle cx="20.6" cy="16" r="0.9"/><circle cx="10" cy="18.9" r="1.4"/><circle cx="17.5" cy="18.9" r="1.4"/><circle cx="13.6" cy="21.7" r="0.9"/></g></svg>
<div style="position:absolute;left:148px;top:738.7px;font-family:'Liberation Sans', sans-serif;font-size:21px;line-height:21px;color:#f4f4f4;font-weight:normal;white-space:pre;">Implicit Layer</div>
<div style="position:absolute;left:426px;top:734.6px;font-family:'Liberation Sans', sans-serif;font-size:21px;line-height:21px;color:#c4c9cf;font-weight:normal;white-space:pre;">1 dep</div>
<svg style="position:absolute;left:484px;top:742px;overflow:visible" width="13" height="11" viewBox="0 0 13 11"><path d="M0 0 L13 5.5 L0 11 Z" fill="#a9b3bd"/></svg>
<div style="position:absolute;left:507px;top:729px;width:440px;height:106px;box-sizing:border-box;background:#fff;border:1px solid #a0a0a0"></div>
<div style="position:absolute;left:508px;top:799px;width:438px;height:35px;box-sizing:border-box;background:#778899"></div>
<div style="position:absolute;left:518px;top:741px;width:2px;height:14px;box-sizing:border-box;background:#222"></div>
<div style="position:absolute;left:518px;top:776px;width:2px;height:14px;box-sizing:border-box;background:#222"></div>
<div style="position:absolute;left:552px;top:735.6px;font-family:'Liberation Sans', sans-serif;font-size:21px;line-height:21px;color:#000;font-weight:normal;white-space:pre;">open timeline</div>
<div style="position:absolute;left:552px;top:770.5px;font-family:'Liberation Sans', sans-serif;font-size:21px;line-height:21px;color:#000;font-weight:normal;white-space:pre;">open graph</div>
<svg style="position:absolute;left:516px;top:808px;overflow:visible" width="18" height="16" viewBox="0 0 18 16"><path d="M18 0 L0 7.5 L8 8.5 L9.5 16 Z" fill="#fff"/></svg>
<div style="position:absolute;left:552px;top:804.2px;font-family:'Liberation Sans', sans-serif;font-size:21px;line-height:21px;color:#fff;font-weight:normal;white-space:pre;">line 20: useCelsius</div>
<div style="position:absolute;left:856.5px;top:804.2px;font-family:'Liberation Sans', sans-serif;font-size:21px;line-height:21px;color:#c9ced4;font-weight:normal;white-space:pre;">4 events</div>
<div style="position:absolute;left:991px;top:565.5px;font-family:'Liberation Sans', sans-serif;font-size:35.5px;line-height:35.5px;color:#000;font-weight:bold;white-space:pre;">Reactive Concepts Overview</div>
<svg style="position:absolute;left:1005.5px;top:619.5px;overflow:visible" width="12" height="11" viewBox="0 0 12 11"><path d="M12 0 V11 H0 Z" fill="#404040"/></svg>
<div style="position:absolute;left:1047px;top:613px;width:26px;height:26px;box-sizing:border-box;background:linear-gradient(135deg,#f4f4f4,#dcdcdc);border:2px solid #b8b8b8"></div>
<div style="position:absolute;left:1051px;top:617px;width:18px;height:18px;box-sizing:border-box;background:linear-gradient(180deg,#5fd35f,#1f9a1f);border-radius:1px"></div>
<div style="position:absolute;left:1084px;top:610.7px;font-family:'Liberation Sans', sans-serif;font-size:30.3px;line-height:30.3px;color:#000;font-weight:normal;white-space:pre;">thermostat-component.js</div>
<svg style="position:absolute;left:1056px;top:640px;overflow:visible" width="60" height="200" viewBox="0 0 60 200"><path d="M2 9.5 V189.5" stroke="#333" stroke-width="2" stroke-dasharray="2 2"/><path d="M47.5 55 V78 H71" stroke="#333" stroke-width="2" stroke-dasharray="2 2" fill="none"/><path d="M47.5 146 V169.5 H71" stroke="#333" stroke-width="2" stroke-dasharray="2 2" fill="none"/></svg>
<svg style="position:absolute;left:1051px;top:665px;overflow:visible" width="12" height="11" viewBox="0 0 12 11"><path d="M12 0 V11 H0 Z" fill="#404040"/></svg>
<div style="position:absolute;left:1092.5px;top:659px;width:26px;height:26px;box-sizing:border-box;background:linear-gradient(135deg,#f4f4f4,#dcdcdc);border:2px solid #b8b8b8"></div>
<svg style="position:absolute;left:1089.5px;top:660px;overflow:visible" width="32" height="24" viewBox="0 0 32 24"><defs><linearGradient id="cg" x1="0" y1="0" x2="0" y2="1"><stop offset="0" stop-color="#a6e88a"/><stop offset="0.45" stop-color="#44b915"/><stop offset="1" stop-color="#1f930a"/></linearGradient></defs><path d="M7.3 4.8 L2 10.2 L13.8 21.7 L30.6 5.6 L25.3 2.3 L13.8 9.6 Z" fill="url(#cg)" stroke="#3aa51a" stroke-width="1.2" stroke-linejoin="round"/></svg>
<div style="position:absolute;left:1129px;top:656.1px;font-family:'Liberation Sans', sans-serif;font-size:31.2px;line-height:31.2px;color:#000;font-weight:normal;white-space:pre;">SI in line 18 - textContent</div>
<div style="position:absolute;left:1138px;top:704.5px;width:26px;height:26px;box-sizing:border-box;background:linear-gradient(135deg,#f4f4f4,#dcdcdc);border:2px solid #b8b8b8"></div>
<svg style="position:absolute;left:1135px;top:705.5px;overflow:visible" width="32" height="24" viewBox="0 0 32 24"><defs><linearGradient id="cg" x1="0" y1="0" x2="0" y2="1"><stop offset="0" stop-color="#a6e88a"/><stop offset="0.45" stop-color="#44b915"/><stop offset="1" stop-color="#1f930a"/></linearGradient></defs><path d="M7.3 4.8 L2 10.2 L13.8 21.7 L30.6 5.6 L25.3 2.3 L13.8 9.6 Z" fill="url(#cg)" stroke="#3aa51a" stroke-width="1.2" stroke-linejoin="round"/></svg>
<svg style="position:absolute;left:1178.4px;top:704.9px;overflow:visible" width="34" height="29" viewBox="0 0 36 30"><path d="M8.8 3.2 C8 5.5 9.8 7.8 13.2 8.4" stroke="#000" stroke-width="4.4" stroke-linecap="round" fill="none"/><path d="M8 6.5 C10 5.5 13 5.2 17 5.9 C19 6.3 21 7.8 24 7.8 L30 7.8 C34 8.2 35.4 11 35.4 15 L35.4 26 L34 26.5 L34 29.4 L23 29.4 L25.5 21.5 L17.4 21.5 L17.4 29.4 L11.6 29.4 L11.6 20.8 C9.6 19 8 17 6 16.2 C3 16 0.8 14 0.8 11.8 C1.2 10 4 8.5 8 6.5 Z" fill="#8e5530" stroke="#000" stroke-width="1.8" stroke-linejoin="round"/><path d="M8.8 3.2 C8 5.5 9.8 7.8 13.2 8.4" stroke="#f5bd00" stroke-width="2" stroke-linecap="round" fill="none"/><path d="M23 22 L20.5 29 M33 23 L33.5 28" stroke="#6e4332" stroke-width="1.6"/><ellipse cx="7.2" cy="10.2" rx="0.8" ry="1.1" fill="#000"/><ellipse cx="3.6" cy="13.2" rx="1.6" ry="1" fill="#e9b99c"/><ellipse cx="12.5" cy="11.5" rx="1" ry="2" fill="#6e4332" transform="rotate(-30 12.5 11.5)"/></svg>
<svg style="position:absolute;left:1051px;top:756px;overflow:visible" width="12" height="11" viewBox="0 0 12 11"><path d="M12 0 V11 H0 Z" fill="#404040"/></svg>
<div style="position:absolute;left:1092.5px;top:750px;width:26px;height:26px;box-sizing:border-box;background:linear-gradient(135deg,#f4f4f4,#dcdcdc);border:2px solid #b8b8b8"></div>
<div style="position:absolute;left:1129px;top:746.6px;font-family:'Liberation Sans', sans-serif;font-size:31.2px;line-height:31.2px;color:#000;font-weight:normal;white-space:pre;">SI in line 20 - useCelsius</div>
<div style="position:absolute;left:1138px;top:795.5px;width:26px;height:26px;box-sizing:border-box;background:linear-gradient(135deg,#f4f4f4,#dcdcdc);border:2px solid #b8b8b8"></div>
<svg style="position:absolute;left:1178.2px;top:792px;overflow:visible" width="34" height="33" viewBox="0 0 36 34"><path d="M0.8 7.5 C1.2 5 3.5 5 5 6 C8 4.8 11 5 14 4.6 C16 2 18.5 0.8 22 0.8 L30 0.8 L29.6 5 L27.5 6.2 L35 7.8 L33.6 13.6 L35.4 14.6 L34 19 C34 27 28.5 33.2 21 33.2 L2.6 33.2 C4 27 8 23.5 12.5 21.2 L4 21 C2.4 21 1.6 19.8 1.8 17.8 L1.2 15 C0.8 12 0.8 9.5 0.8 7.5 Z" fill="#72aa26" stroke="#000" stroke-width="2.2" stroke-linejoin="round"/><path d="M23.5 9 L35 7.8 L33.6 13.6 L35.4 14.6 L34 19 C34 27 28.5 33.2 21 33.2 C26.5 28 28.5 20 23.5 9 Z" fill="#f6620f"/><path d="M2.6 33.2 C4 27 8 23.5 12.5 21.2 L22 19.8 C18 22.5 16.5 26 15.8 33.2 Z" fill="#c2dc0c"/><path d="M15.5 8.5 C16.5 4.5 19 2.8 23 2.8 L28.6 2.8 L28.2 5 L23.5 5 C21.5 5.5 20.5 7.2 20 9.5 Z" fill="#f5b900"/><path d="M1.5 14.2 L12 15.8 L12 18 L2.2 18 Z" fill="#000"/><path d="M3 14.8 L9.5 15.3 L9.3 16.6 L3.3 16.6 Z" fill="#fff"/><ellipse cx="12" cy="10.5" rx="1.2" ry="1.5" fill="#000"/></svg>
<svg style="position:absolute;left:1052.5px;top:846.5px;overflow:visible" width="11" height="18" viewBox="0 0 11 18"><path d="M1 1 L10 9 L1 17 Z" fill="#fff" stroke="#999" stroke-width="1.5"/></svg>
<div style="position:absolute;left:1092.5px;top:841.5px;width:26px;height:26px;box-sizing:border-box;background:linear-gradient(135deg,#f4f4f4,#dcdcdc);border:2px solid #b8b8b8"></div>
<svg style="position:absolute;left:1089.5px;top:842.5px;overflow:visible" width="32" height="24" viewBox="0 0 32 24"><defs><linearGradient id="cg" x1="0" y1="0" x2="0" y2="1"><stop offset="0" stop-color="#a6e88a"/><stop offset="0.45" stop-color="#44b915"/><stop offset="1" stop-color="#1f930a"/></linearGradient></defs><path d="M7.3 4.8 L2 10.2 L13.8 21.7 L30.6 5.6 L25.3 2.3 L13.8 9.6 Z" fill="url(#cg)" stroke="#3aa51a" stroke-width="1.2" stroke-linejoin="round"/></svg>
<div style="position:absolute;left:1130.5px;top:840px;font-family:'Liberation Sans', sans-serif;font-size:28px;line-height:28px;color:#000;font-weight:normal;white-space:pre;">IL in line 23 - Temperature Unit</div>
<svg style="position:absolute;left:0;top:0" width="1711" height="1584"><path d="M649 923.3 H340 V1143" stroke="#000" stroke-width="1.5" fill="none"/><path d="M334.5 1141.5 L345.5 1141.5 L340 1155.5 Z" fill="#000"/><path d="M649 939.3 H483.7 V974" stroke="#000" stroke-width="1.5" fill="none"/><path d="M478.2 972.4 L489.2 972.4 L483.7 986.4 Z" fill="#000"/><path d="M729.5 955 V974" stroke="#000" stroke-width="1.5" fill="none"/><path d="M724.0 972.2 L735.0 972.2 L729.5 986.2 Z" fill="#000"/><path d="M844.3 955 V974" stroke="#000" stroke-width="1.5" fill="none"/><path d="M838.8 972.4 L849.8 972.4 L844.3 986.4 Z" fill="#000"/><path d="M909.6 938.8 H1105.7 V974" stroke="#000" stroke-width="1.5" fill="none"/><path d="M1100.2 972.4 L1111.2 972.4 L1105.7 986.4 Z" fill="#000"/><path d="M909.6 923.3 H1464 V1143" stroke="#000" stroke-width="1.5" fill="none"/><path d="M1458.5 1141.7 L1469.5 1141.7 L1464 1155.7 Z" fill="#000"/><path d="M546 1034.4 L545.8 1084" stroke="#000" stroke-width="1.5" fill="none"/><path d="M540.3 1082.6 L551.3 1082.6 L545.8 1096.6 Z" fill="#000"/><path d="M883 1034 V1312" stroke="#000" stroke-width="1.5" fill="none"/><path d="M877 1310.5 L889 1310.5 L883 1325.5 Z" fill="#000"/><path d="M391 1203.3 V1406" stroke="#000" stroke-width="1.5" fill="none"/><path d="M385.5 1405.8 L396.5 1405.8 L391 1419.8 Z" fill="#000"/><path d="M1357.9 1202.7 V1406" stroke="#000" stroke-width="1.5" fill="none"/><path d="M1352.4 1405.4 L1363.4 1405.4 L1357.9 1419.4 Z" fill="#000"/><path d="M669.4 1034 V1084" stroke="#00f" stroke-width="4" fill="none"/><path d="M661.9 1082.6 L676.9 1082.6 L669.4 1096.6 Z" fill="#00f"/><path d="M585.3 1262 V1405" stroke="#00f" stroke-width="4" fill="none"/><path d="M578.0 1403.2 L592.5999999999999 1403.2 L585.3 1423.2 Z" fill="#00f"/><path d="M722 1262 V1350" stroke="#00f" stroke-width="4" fill="none"/><path d="M714.7 1346.8 L729.3 1346.8 L722 1366.3 Z" fill="#00f"/><path d="M782.5 1262 V1301 H1156.8 V1405" stroke="#00f" stroke-width="4" fill="none"/><path d="M1149.5 1403.3 L1164.1 1403.3 L1156.8 1423.3 Z" fill="#00f"/><path d="M962.9 1034 V1070" stroke="#00f" stroke-width="1.5" fill="none"/><path d="M957.3 1068.1 L968.5 1068.1 L962.9 1082.1 Z" fill="#00f"/><path d="M1105.7 1034 V1070" stroke="#add8e6" stroke-width="1.5" fill="none"/><path d="M1100.1000000000001 1068 L1111.3 1068 L1105.7 1082 Z" fill="#add8e6"/></svg>
<div style="position:absolute;left:649.2px;top:907px;width:260.5px;height:48px;box-sizing:border-box;background:#c8eac6;border:1.5px solid #222;border-radius:18px"></div>
<div style="position:absolute;left:672px;top:921.6px;font-family:'Liberation Sans', sans-serif;font-size:18.3px;line-height:18.3px;color:#000;font-weight:normal;white-space:pre;">thermostat-component</div>
<div style="position:absolute;left:875.5px;top:921.6px;font-family:'Liberation Sans', sans-serif;font-size:18.3px;line-height:18.3px;color:#000;font-weight:normal;white-space:pre;">+</div>
<div style="position:absolute;left:407.3px;top:986.2px;width:152.59999999999997px;height:48.200000000000045px;box-sizing:border-box;background:#fdd8a6;border:1.5px solid #222;border-radius:0px"></div>
<div style="position:absolute;left:430.5px;top:1000.5px;font-family:'Liberation Sans', sans-serif;font-size:18.3px;line-height:18.3px;color:#000;font-weight:normal;white-space:pre;">unitLayer</div>
<div style="position:absolute;left:526.7px;top:1000.5px;font-family:'Liberation Sans', sans-serif;font-size:18.3px;line-height:18.3px;color:#000;font-weight:normal;white-space:pre;">+</div>
<div style="position:absolute;left:569.2px;top:986.2px;width:206.89999999999998px;height:48.200000000000045px;box-sizing:border-box;background:#fdd8a6;border:1.5px solid #222;border-radius:0px"></div>
<svg style="position:absolute;left:576.5px;top:1000px;overflow:visible" width="20" height="20" viewBox="0 0 36 34"><path d="M0.8 7.5 C1.2 5 3.5 5 5 6 C8 4.8 11 5 14 4.6 C16 2 18.5 0.8 22 0.8 L30 0.8 L29.6 5 L27.5 6.2 L35 7.8 L33.6 13.6 L35.4 14.6 L34 19 C34 27 28.5 33.2 21 33.2 L2.6 33.2 C4 27 8 23.5 12.5 21.2 L4 21 C2.4 21 1.6 19.8 1.8 17.8 L1.2 15 C0.8 12 0.8 9.5 0.8 7.5 Z" fill="#72aa26" stroke="#000" stroke-width="2.2" stroke-linejoin="round"/><path d="M23.5 9 L35 7.8 L33.6 13.6 L35.4 14.6 L34 19 C34 27 28.5 33.2 21 33.2 C26.5 28 28.5 20 23.5 9 Z" fill="#f6620f"/><path d="M2.6 33.2 C4 27 8 23.5 12.5 21.2 L22 19.8 C18 22.5 16.5 26 15.8 33.2 Z" fill="#c2dc0c"/><path d="M15.5 8.5 C16.5 4.5 19 2.8 23 2.8 L28.6 2.8 L28.2 5 L23.5 5 C21.5 5.5 20.5 7.2 20 9.5 Z" fill="#f5b900"/><path d="M1.5 14.2 L12 15.8 L12 18 L2.2 18 Z" fill="#000"/><path d="M3 14.8 L9.5 15.3 L9.3 16.6 L3.3 16.6 Z" fill="#fff"/><ellipse cx="12" cy="10.5" rx="1.2" ry="1.5" fill="#000"/></svg>
<div style="position:absolute;left:604.5px;top:1000.5px;font-family:'Liberation Sans', sans-serif;font-size:18.3px;line-height:18.3px;color:#000;font-weight:normal;white-space:pre;">Signal useCelsius</div>
<div style="position:absolute;left:755.6px;top:1000.5px;font-family:'Liberation Sans', sans-serif;font-size:18.3px;line-height:18.3px;color:#000;font-weight:normal;white-space:pre;">+</div>
<div style="position:absolute;left:789.8px;top:986.4px;width:212.80000000000007px;height:47.60000000000002px;box-sizing:border-box;background:#fdd8a6;border:1.5px solid #222;border-radius:0px"></div>
<div style="position:absolute;left:802px;top:1000.4px;font-family:'Liberation Sans', sans-serif;font-size:18.3px;line-height:18.3px;color:#000;font-weight:normal;white-space:pre;">temperatureString</div>
<div style="position:absolute;left:969.2px;top:1000.4px;font-family:'Liberation Sans', sans-serif;font-size:18.3px;line-height:18.3px;color:#000;font-weight:normal;white-space:pre;">+</div>
<div style="position:absolute;left:1026.2px;top:986.4px;width:158.29999999999995px;height:47.60000000000002px;box-sizing:border-box;background:#fdd8a6;border:1.5px solid #222;border-radius:0px"></div>
<div style="position:absolute;left:1049px;top:1000.4px;font-family:'Liberation Sans', sans-serif;font-size:18.3px;line-height:18.3px;color:#000;font-weight:normal;white-space:pre;">fahrenheit</div>
<div style="position:absolute;left:1150.9px;top:1000.4px;font-family:'Liberation Sans', sans-serif;font-size:18.3px;line-height:18.3px;color:#000;font-weight:normal;white-space:pre;">+</div>
<div style="position:absolute;left:271.5px;top:1155.5px;width:238.39999999999998px;height:47.799999999999955px;box-sizing:border-box;background:#fdd8a6;border:1.5px solid #222;border-radius:0px"></div>
<div style="position:absolute;left:295.5px;top:1169.4px;font-family:'Liberation Sans', sans-serif;font-size:18.3px;line-height:18.3px;color:#000;font-weight:normal;white-space:pre;">reduceTemperature</div>
<div style="position:absolute;left:475.5px;top:1169.4px;font-family:'Liberation Sans', sans-serif;font-size:18.3px;line-height:18.3px;color:#000;font-weight:normal;white-space:pre;">+</div>
<div style="position:absolute;left:1232.6px;top:1155.7px;width:250.80000000000018px;height:47.0px;box-sizing:border-box;background:#fdd8a6;border:1.5px solid #222;border-radius:0px"></div>
<div style="position:absolute;left:1256.5px;top:1169.4px;font-family:'Liberation Sans', sans-serif;font-size:18.3px;line-height:18.3px;color:#000;font-weight:normal;white-space:pre;">increaseTemperature</div>
<div style="position:absolute;left:1449px;top:1169.4px;font-family:'Liberation Sans', sans-serif;font-size:18.3px;line-height:18.3px;color:#000;font-weight:normal;white-space:pre;">+</div>
<div style="position:absolute;left:530.9px;top:1096.6px;width:314.0px;height:165.5px;box-sizing:border-box;background:#fdfbcf;border:4px solid #000;border-radius:16px"></div>
<div style="position:absolute;left:533px;top:1128.4px;width:310px;height:4px;box-sizing:border-box;background:#000"></div>
<div style="position:absolute;left:533px;top:1160.7px;width:310px;height:4px;box-sizing:border-box;background:#000"></div>
<div style="position:absolute;left:533px;top:1193.3px;width:310px;height:4px;box-sizing:border-box;background:#000"></div>
<div style="position:absolute;left:533px;top:1225.7px;width:310px;height:4px;box-sizing:border-box;background:#000"></div>
<svg style="position:absolute;left:566.1px;top:1106px;overflow:visible" width="21" height="16" viewBox="0 0 36 26"><path d="M1 11.5 C0.8 5 6 0.9 13 0.9 C17 0.9 19 1.8 20.5 2.6 L22 0.7 L25.2 5 L29 5.6 L32 3.2 C34.8 4 35.9 7 35.8 9.6 C35.9 12.2 35 15 32.2 16 L29 12.8 L27 12.8 L26.6 17 C26.4 21 25 23 22.8 24.4 L22.2 25.4 C20.2 25 19 25.4 13 25.4 C6 25.4 1.4 20 1 11.5 Z" fill="#f8ddd0" stroke="#000" stroke-width="2" stroke-linejoin="round"/><path d="M1.6 9.6 C2.4 4 7 1.8 13 1.8 C17 1.8 19.3 2.6 20.6 3.4 L21.8 2.2 L24.6 5.8 L28.8 6.4 L29.5 9.6 Z" fill="#8c542e"/><ellipse cx="33" cy="9.6" rx="2.2" ry="4.6" fill="#c99863"/><ellipse cx="19.3" cy="11.6" rx="2.6" ry="3.2" fill="#c29b6d"/><ellipse cx="9.8" cy="10.8" rx="1.1" ry="2.4" fill="#000"/><g fill="#b98a55"><circle cx="7" cy="16" r="0.9"/><circle cx="13.6" cy="16" r="0.9"/><circle cx="20.6" cy="16" r="0.9"/><circle cx="10" cy="18.9" r="1.4"/><circle cx="17.5" cy="18.9" r="1.4"/><circle cx="13.6" cy="21.7" r="0.9"/></g></svg>
<div style="position:absolute;left:594.5px;top:1104.8px;font-family:'Liberation Sans', sans-serif;font-size:18.3px;line-height:18.3px;color:#000;font-weight:normal;white-space:pre;">Layer Temperature Unit</div>
<div style="position:absolute;left:805.5px;top:1104.8px;font-family:'Liberation Sans', sans-serif;font-size:18.3px;line-height:18.3px;color:#000;font-weight:bold;white-space:pre;">-</div>
<div style="position:absolute;left:387.9px;top:1136.2px;width:600px;text-align:center;font-family:'Liberation Sans',sans-serif;font-size:18.3px;line-height:18.3px;color:#000;font-weight:normal;white-space:pre">Inactive</div>
<div style="position:absolute;left:387.9px;top:1169.6px;width:600px;text-align:center;font-family:'Liberation Sans',sans-serif;font-size:18.3px;line-height:18.3px;color:#000;font-weight:normal;white-space:pre">1 Location</div>
<div style="position:absolute;left:387.9px;top:1201.8px;width:600px;text-align:center;font-family:'Liberation Sans',sans-serif;font-size:18.3px;line-height:18.3px;color:#000;font-weight:normal;white-space:pre">Caused 12 Events</div>
<div style="position:absolute;left:387.9px;top:1234.2px;width:600px;text-align:center;font-family:'Liberation Sans',sans-serif;font-size:18.3px;line-height:18.3px;color:#000;font-weight:normal;white-space:pre">Has 4 Events</div>
<div style="position:absolute;left:923px;top:1081.2px;width:286.29999999999995px;height:195.39999999999986px;box-sizing:border-box;background:#fdd8a6;border:1.5px solid #222;border-radius:0px"></div>
<div style="position:absolute;left:924px;top:1113.5px;width:285px;height:1.5px;box-sizing:border-box;background:#1a1a1a"></div>
<div style="position:absolute;left:924px;top:1146.5px;width:285px;height:1.5px;box-sizing:border-box;background:#1a1a1a"></div>
<div style="position:absolute;left:924px;top:1178.5px;width:285px;height:1.5px;box-sizing:border-box;background:#1a1a1a"></div>
<div style="position:absolute;left:924px;top:1210.5px;width:285px;height:1.5px;box-sizing:border-box;background:#1a1a1a"></div>
<div style="position:absolute;left:924px;top:1243.5px;width:285px;height:1.5px;box-sizing:border-box;background:#1a1a1a"></div>
<svg style="position:absolute;left:965.3px;top:1091px;overflow:visible" width="21" height="17.5" viewBox="0 0 36 30"><path d="M8.8 3.2 C8 5.5 9.8 7.8 13.2 8.4" stroke="#000" stroke-width="4.4" stroke-linecap="round" fill="none"/><path d="M8 6.5 C10 5.5 13 5.2 17 5.9 C19 6.3 21 7.8 24 7.8 L30 7.8 C34 8.2 35.4 11 35.4 15 L35.4 26 L34 26.5 L34 29.4 L23 29.4 L25.5 21.5 L17.4 21.5 L17.4 29.4 L11.6 29.4 L11.6 20.8 C9.6 19 8 17 6 16.2 C3 16 0.8 14 0.8 11.8 C1.2 10 4 8.5 8 6.5 Z" fill="#8e5530" stroke="#000" stroke-width="1.8" stroke-linejoin="round"/><path d="M8.8 3.2 C8 5.5 9.8 7.8 13.2 8.4" stroke="#f5bd00" stroke-width="2" stroke-linecap="round" fill="none"/><path d="M23 22 L20.5 29 M33 23 L33.5 28" stroke="#6e4332" stroke-width="1.6"/><ellipse cx="7.2" cy="10.2" rx="0.8" ry="1.1" fill="#000"/><ellipse cx="3.6" cy="13.2" rx="1.6" ry="1" fill="#e9b99c"/><ellipse cx="12.5" cy="11.5" rx="1" ry="2" fill="#6e4332" transform="rotate(-30 12.5 11.5)"/></svg>
<div style="position:absolute;left:993px;top:1088.5px;font-family:'Liberation Sans', sans-serif;font-size:18.3px;line-height:18.3px;color:#000;font-weight:normal;white-space:pre;">Signal textContent</div>
<div style="position:absolute;left:1163px;top:1088.5px;font-family:'Liberation Sans', sans-serif;font-size:18.3px;line-height:18.3px;color:#000;font-weight:bold;white-space:pre;">-</div>
<div style="position:absolute;left:766.2px;top:1120.6px;width:600px;text-align:center;font-family:'Liberation Sans',sans-serif;font-size:18.3px;line-height:18.3px;color:#000;font-weight:normal;white-space:pre">member</div>
<div style="position:absolute;left:766.2px;top:1153.7px;width:600px;text-align:center;font-family:'Liberation Sans',sans-serif;font-size:18.3px;line-height:18.3px;color:#000;font-weight:normal;white-space:pre">always: this.temperatureString()</div>
<div style="position:absolute;left:766.2px;top:1185.5px;width:600px;text-align:center;font-family:'Liberation Sans',sans-serif;font-size:18.3px;line-height:18.3px;color:#000;font-weight:normal;white-space:pre">value: "75°F "</div>
<div style="position:absolute;left:766.2px;top:1219px;width:600px;text-align:center;font-family:'Liberation Sans',sans-serif;font-size:18.3px;line-height:18.3px;color:#000;font-weight:normal;white-space:pre">1 Location</div>
<div style="position:absolute;left:766.2px;top:1250.7px;width:600px;text-align:center;font-family:'Liberation Sans',sans-serif;font-size:18.3px;line-height:18.3px;color:#000;font-weight:normal;white-space:pre">Has 7 Events</div>
<div style="position:absolute;left:282.2px;top:1424.7px;width:345.40000000000003px;height:35.09999999999991px;box-sizing:border-box;background:#fffacd;border:1.5px solid #222;border-radius:12px"></div>
<div style="position:absolute;left:289.5px;top:1432.6px;font-family:'Liberation Sans', sans-serif;font-size:18.3px;line-height:18.3px;color:#000;font-weight:normal;white-space:pre;">layered function: reduceTemperature</div>
<div style="position:absolute;left:608.1px;top:1432.6px;font-family:'Liberation Sans', sans-serif;font-size:18.3px;line-height:18.3px;color:#000;font-weight:normal;white-space:pre;">+</div>
<div style="position:absolute;left:1115.2px;top:1425.2px;width:357.70000000000005px;height:33.899999999999864px;box-sizing:border-box;background:#fffacd;border:1.5px solid #222;border-radius:12px"></div>
<div style="position:absolute;left:1122.4px;top:1431.7px;font-family:'Liberation Sans', sans-serif;font-size:18.3px;line-height:18.3px;color:#000;font-weight:normal;white-space:pre;">layered function: increaseTemperature</div>
<div style="position:absolute;left:1454.3px;top:1431.7px;font-family:'Liberation Sans', sans-serif;font-size:18.3px;line-height:18.3px;color:#000;font-weight:normal;white-space:pre;">+</div>
<div style="position:absolute;left:671.8px;top:1329.3px;width:398.60000000000014px;height:225.60000000000014px;box-sizing:border-box;background:#fffacd;border:1.5px solid #222;border-radius:16px"></div>
<div style="position:absolute;left:673px;top:1360.5px;width:397px;height:1.5px;box-sizing:border-box;background:#1a1a1a"></div>
<div style="position:absolute;left:673px;top:1441.5px;width:397px;height:1.5px;box-sizing:border-box;background:#1a1a1a"></div>
<div style="position:absolute;left:673px;top:1522.5px;width:397px;height:1.5px;box-sizing:border-box;background:#1a1a1a"></div>
<div style="position:absolute;left:714.7px;top:1337.4px;font-family:'Liberation Sans', sans-serif;font-size:18.3px;line-height:18.3px;color:#000;font-weight:normal;white-space:pre;">layered function: temperatureString</div>
<div style="position:absolute;left:1021.3px;top:1337.4px;font-family:'Liberation Sans', sans-serif;font-size:18.3px;line-height:18.3px;color:#000;font-weight:bold;white-space:pre;">-</div>
<div style="position:absolute;left:679.5px;top:1364.4px;font-family:'Liberation Sans', sans-serif;font-size:18.3px;line-height:18.3px;color:#c0c0c0;font-weight:bold;white-space:pre;">Temperature Unit:</div>
<div style="position:absolute;left:678.5px;top:1383.5px;font-family:'Liberation Sans', sans-serif;font-size:18.3px;line-height:18.3px;color:#c0c0c0;font-weight:normal;white-space:pre;">temperatureString() {</div>
<div style="position:absolute;left:698.8px;top:1401.5px;font-family:'Liberation Sans', sans-serif;font-size:18.3px;line-height:18.3px;color:#c0c0c0;font-weight:normal;white-space:pre;">return this.fahrenheit + "°F ";</div>
<div style="position:absolute;left:678.5px;top:1419.5px;font-family:'Liberation Sans', sans-serif;font-size:18.3px;line-height:18.3px;color:#c0c0c0;font-weight:normal;white-space:pre;">}</div>
<div style="position:absolute;left:679.5px;top:1445.4px;font-family:'Liberation Sans', sans-serif;font-size:18.3px;line-height:18.3px;color:#000;font-weight:bold;white-space:pre;">original:</div>
<div style="position:absolute;left:678.5px;top:1464.5px;font-family:'Liberation Sans', sans-serif;font-size:18.3px;line-height:18.3px;color:#000;font-weight:normal;white-space:pre;">temperatureString() {</div>
<div style="position:absolute;left:698.8px;top:1482.5px;font-family:'Liberation Sans', sans-serif;font-size:18.3px;line-height:18.3px;color:#000;font-weight:normal;white-space:pre;">return this.celsius + "°C";</div>
<div style="position:absolute;left:678.5px;top:1500.5px;font-family:'Liberation Sans', sans-serif;font-size:18.3px;line-height:18.3px;color:#000;font-weight:normal;white-space:pre;">}</div>
<div style="position:absolute;left:571.0px;top:1528.1px;width:600px;text-align:center;font-family:'Liberation Sans',sans-serif;font-size:18.3px;line-height:18.3px;color:#000;font-weight:normal;white-space:pre">1 Location</div>
<svg style="position:absolute;left:0;top:0" width="1711" height="1584"><path d="M722 1330 V1350" stroke="#00f" stroke-width="4"/><path d="M714.7 1346.8 L729.3 1346.8 L722 1366.3 Z" fill="#00f"/></svg>
<div style="position:absolute;left:673px;top:1035px;font-family:'Liberation Sans', sans-serif;font-size:20px;line-height:20px;color:#000;font-weight:normal;white-space:pre;">4</div>
<div style="position:absolute;left:964px;top:1035px;font-family:'Liberation Sans', sans-serif;font-size:19px;line-height:19px;color:#000;font-weight:normal;white-space:pre;">3</div>
<div style="position:absolute;left:706px;top:1263px;font-family:'Liberation Sans', sans-serif;font-size:20px;line-height:20px;color:#000;font-weight:normal;white-space:pre;">4</div>
<div style="position:absolute;left:765px;top:1263px;font-family:'Liberation Sans', sans-serif;font-size:20px;line-height:20px;color:#000;font-weight:normal;white-space:pre;">4</div>
<div style="position:absolute;left:579.5px;top:1263.5px;font-family:'Liberation Sans', sans-serif;font-size:9px;line-height:9px;color:#000;font-weight:normal;white-space:pre;">4</div>
</body></html>
